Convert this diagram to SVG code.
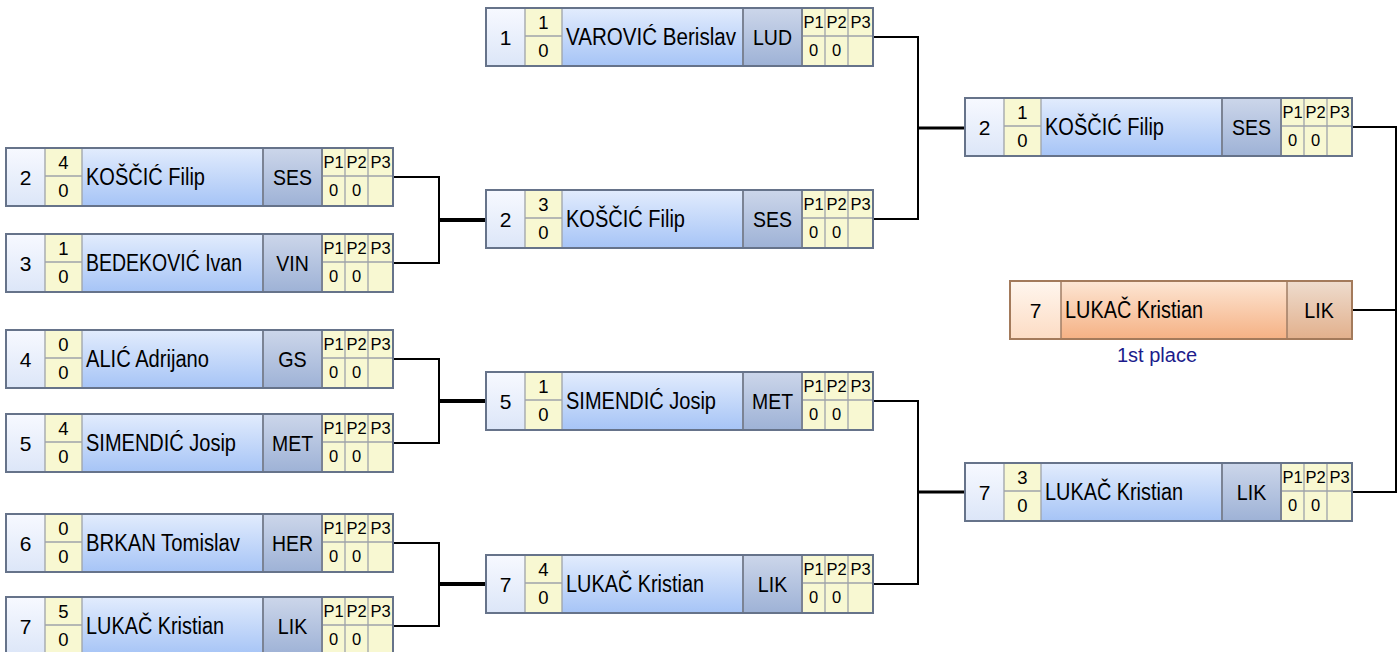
<svg xmlns="http://www.w3.org/2000/svg" xmlns:xlink="http://www.w3.org/1999/xlink" width="1400" height="652" viewBox="0 0 1400 652">
<defs>
<linearGradient id="gSeed" x1="0" y1="0" x2="0" y2="1"><stop offset="0" stop-color="#f7f9ff"/><stop offset="1" stop-color="#dce6f8"/></linearGradient>
<linearGradient id="gName" x1="0" y1="0" x2="0" y2="1"><stop offset="0" stop-color="#e2ecfd"/><stop offset="1" stop-color="#a6c4f6"/></linearGradient>
<linearGradient id="gClub" x1="0" y1="0" x2="0" y2="1"><stop offset="0" stop-color="#ccd6ea"/><stop offset="1" stop-color="#9eb2d6"/></linearGradient>
<linearGradient id="fSeed" x1="0" y1="0" x2="0" y2="1"><stop offset="0" stop-color="#fff6ee"/><stop offset="1" stop-color="#fcdcc4"/></linearGradient>
<linearGradient id="fName" x1="0" y1="0" x2="0" y2="1"><stop offset="0" stop-color="#fde6d4"/><stop offset="1" stop-color="#f5b184"/></linearGradient>
<linearGradient id="fClub" x1="0" y1="0" x2="0" y2="1"><stop offset="0" stop-color="#eedcce"/><stop offset="1" stop-color="#e2b08c"/></linearGradient>
<symbol id="card" overflow="visible">
<rect x="0" y="0" width="39" height="58" fill="url(#gSeed)"/>
<rect x="39" y="0" width="37" height="58" fill="#f8f8d2"/>
<rect x="76" y="0" width="181" height="58" fill="url(#gName)"/>
<rect x="257" y="0" width="59" height="58" fill="url(#gClub)"/>
<rect x="316" y="0" width="71" height="58" fill="#f8f8d2"/>
<path d="M39,0V58M76,0V58M339,0V58M362,0V58M39,28H76M316,28H387" stroke="#9ea3aa" stroke-width="1.3" fill="none"/>
<path d="M257,0V58M316,0V58" stroke="#7b8394" stroke-width="2" fill="none"/>
<rect x="0" y="0" width="387" height="58" fill="none" stroke="#66738a" stroke-width="2"/>
</symbol>
<style>
text{font-family:"Liberation Sans",Arial,sans-serif;fill:#000}
.s{font-size:21px;text-anchor:middle}
.n{font-size:23px}
.c{font-size:22.5px;text-anchor:middle}
.sc{font-size:18.5px;text-anchor:middle}
.p{font-size:16.5px;text-anchor:middle}
.lbl{font-size:20px;text-anchor:middle;fill:#1c1c8c}
.thin{stroke:#000;stroke-width:2;fill:none}
.mid{stroke:#000;stroke-width:3;fill:none}
.thick{stroke:#000;stroke-width:4;fill:none}
</style>
</defs>
<rect width="1400" height="652" fill="#fff"/>

<g id="connectors">
<path class="thin" d="M393,177H439V263H393"/>
<path class="thick" d="M439,220H486"/>
<path class="thin" d="M393,359H439V443H393"/>
<path class="thick" d="M439,401H486"/>
<path class="thin" d="M393,543H439V626H393"/>
<path class="thick" d="M439,584H486"/>
<path class="thin" d="M873,37H918V219H873"/>
<path class="mid" d="M918,128H965"/>
<path class="thin" d="M873,401H918V584H873"/>
<path class="mid" d="M918,492H965"/>
<path class="thin" d="M1352,127H1396V492H1352"/>
<path class="thin" d="M1352,310H1396"/>
</g>

<g id="r1-kos" transform="translate(6,148)"><use xlink:href="#card" href="#card"/>
<text class="s" x="19.5" y="36.5">2</text><text class="sc" x="57.5" y="21">4</text><text class="sc" x="57.5" y="49">0</text>
<text class="n" x="80" y="37" textLength="119" lengthAdjust="spacingAndGlyphs">KOŠČIĆ Filip</text><text class="c" x="286.5" y="37" textLength="39" lengthAdjust="spacingAndGlyphs">SES</text>
<text class="p" x="327.5" y="20">P1</text><text class="p" x="350.5" y="20">P2</text><text class="p" x="374.5" y="20">P3</text>
<text class="p" x="327.5" y="48">0</text><text class="p" x="350.5" y="48">0</text></g>

<g id="r1-bed" transform="translate(6,234)"><use xlink:href="#card" href="#card"/>
<text class="s" x="19.5" y="36.5">3</text><text class="sc" x="57.5" y="21">1</text><text class="sc" x="57.5" y="49">0</text>
<text class="n" x="80" y="37" textLength="156" lengthAdjust="spacingAndGlyphs">BEDEKOVIĆ Ivan</text><text class="c" x="286.5" y="37" textLength="32.5" lengthAdjust="spacingAndGlyphs">VIN</text>
<text class="p" x="327.5" y="20">P1</text><text class="p" x="350.5" y="20">P2</text><text class="p" x="374.5" y="20">P3</text>
<text class="p" x="327.5" y="48">0</text><text class="p" x="350.5" y="48">0</text></g>

<g id="r1-ali" transform="translate(6,330)"><use xlink:href="#card" href="#card"/>
<text class="s" x="19.5" y="36.5">4</text><text class="sc" x="57.5" y="21">0</text><text class="sc" x="57.5" y="49">0</text>
<text class="n" x="80" y="37" textLength="123" lengthAdjust="spacingAndGlyphs">ALIĆ Adrijano</text><text class="c" x="286.5" y="37" textLength="28.5" lengthAdjust="spacingAndGlyphs">GS</text>
<text class="p" x="327.5" y="20">P1</text><text class="p" x="350.5" y="20">P2</text><text class="p" x="374.5" y="20">P3</text>
<text class="p" x="327.5" y="48">0</text><text class="p" x="350.5" y="48">0</text></g>

<g id="r1-sim" transform="translate(6,414)"><use xlink:href="#card" href="#card"/>
<text class="s" x="19.5" y="36.5">5</text><text class="sc" x="57.5" y="21">4</text><text class="sc" x="57.5" y="49">0</text>
<text class="n" x="80" y="37" textLength="150" lengthAdjust="spacingAndGlyphs">SIMENDIĆ Josip</text><text class="c" x="286.5" y="37" textLength="41" lengthAdjust="spacingAndGlyphs">MET</text>
<text class="p" x="327.5" y="20">P1</text><text class="p" x="350.5" y="20">P2</text><text class="p" x="374.5" y="20">P3</text>
<text class="p" x="327.5" y="48">0</text><text class="p" x="350.5" y="48">0</text></g>

<g id="r1-brk" transform="translate(6,514)"><use xlink:href="#card" href="#card"/>
<text class="s" x="19.5" y="36.5">6</text><text class="sc" x="57.5" y="21">0</text><text class="sc" x="57.5" y="49">0</text>
<text class="n" x="80" y="37" textLength="154" lengthAdjust="spacingAndGlyphs">BRKAN Tomislav</text><text class="c" x="286.5" y="37" textLength="41" lengthAdjust="spacingAndGlyphs">HER</text>
<text class="p" x="327.5" y="20">P1</text><text class="p" x="350.5" y="20">P2</text><text class="p" x="374.5" y="20">P3</text>
<text class="p" x="327.5" y="48">0</text><text class="p" x="350.5" y="48">0</text></g>

<g id="r1-luk" transform="translate(6,597)"><use xlink:href="#card" href="#card"/>
<text class="s" x="19.5" y="36.5">7</text><text class="sc" x="57.5" y="21">5</text><text class="sc" x="57.5" y="49">0</text>
<text class="n" x="80" y="37" textLength="138" lengthAdjust="spacingAndGlyphs">LUKAČ Kristian</text><text class="c" x="286.5" y="37" textLength="29.5" lengthAdjust="spacingAndGlyphs">LIK</text>
<text class="p" x="327.5" y="20">P1</text><text class="p" x="350.5" y="20">P2</text><text class="p" x="374.5" y="20">P3</text>
<text class="p" x="327.5" y="48">0</text><text class="p" x="350.5" y="48">0</text></g>

<g id="r2-var" transform="translate(486,8)"><use xlink:href="#card" href="#card"/>
<text class="s" x="19.5" y="36.5">1</text><text class="sc" x="57.5" y="21">1</text><text class="sc" x="57.5" y="49">0</text>
<text class="n" x="80" y="37" textLength="170" lengthAdjust="spacingAndGlyphs">VAROVIĆ Berislav</text><text class="c" x="286.5" y="37" textLength="39" lengthAdjust="spacingAndGlyphs">LUD</text>
<text class="p" x="327.5" y="20">P1</text><text class="p" x="350.5" y="20">P2</text><text class="p" x="374.5" y="20">P3</text>
<text class="p" x="327.5" y="48">0</text><text class="p" x="350.5" y="48">0</text></g>

<g id="r2-kos" transform="translate(486,190)"><use xlink:href="#card" href="#card"/>
<text class="s" x="19.5" y="36.5">2</text><text class="sc" x="57.5" y="21">3</text><text class="sc" x="57.5" y="49">0</text>
<text class="n" x="80" y="37" textLength="119" lengthAdjust="spacingAndGlyphs">KOŠČIĆ Filip</text><text class="c" x="286.5" y="37" textLength="39" lengthAdjust="spacingAndGlyphs">SES</text>
<text class="p" x="327.5" y="20">P1</text><text class="p" x="350.5" y="20">P2</text><text class="p" x="374.5" y="20">P3</text>
<text class="p" x="327.5" y="48">0</text><text class="p" x="350.5" y="48">0</text></g>

<g id="r2-sim" transform="translate(486,372)"><use xlink:href="#card" href="#card"/>
<text class="s" x="19.5" y="36.5">5</text><text class="sc" x="57.5" y="21">1</text><text class="sc" x="57.5" y="49">0</text>
<text class="n" x="80" y="37" textLength="150" lengthAdjust="spacingAndGlyphs">SIMENDIĆ Josip</text><text class="c" x="286.5" y="37" textLength="41" lengthAdjust="spacingAndGlyphs">MET</text>
<text class="p" x="327.5" y="20">P1</text><text class="p" x="350.5" y="20">P2</text><text class="p" x="374.5" y="20">P3</text>
<text class="p" x="327.5" y="48">0</text><text class="p" x="350.5" y="48">0</text></g>

<g id="r2-luk" transform="translate(486,555)"><use xlink:href="#card" href="#card"/>
<text class="s" x="19.5" y="36.5">7</text><text class="sc" x="57.5" y="21">4</text><text class="sc" x="57.5" y="49">0</text>
<text class="n" x="80" y="37" textLength="138" lengthAdjust="spacingAndGlyphs">LUKAČ Kristian</text><text class="c" x="286.5" y="37" textLength="29.5" lengthAdjust="spacingAndGlyphs">LIK</text>
<text class="p" x="327.5" y="20">P1</text><text class="p" x="350.5" y="20">P2</text><text class="p" x="374.5" y="20">P3</text>
<text class="p" x="327.5" y="48">0</text><text class="p" x="350.5" y="48">0</text></g>

<g id="r3-kos" transform="translate(965,98)"><use xlink:href="#card" href="#card"/>
<text class="s" x="19.5" y="36.5">2</text><text class="sc" x="57.5" y="21">1</text><text class="sc" x="57.5" y="49">0</text>
<text class="n" x="80" y="37" textLength="119" lengthAdjust="spacingAndGlyphs">KOŠČIĆ Filip</text><text class="c" x="286.5" y="37" textLength="39" lengthAdjust="spacingAndGlyphs">SES</text>
<text class="p" x="327.5" y="20">P1</text><text class="p" x="350.5" y="20">P2</text><text class="p" x="374.5" y="20">P3</text>
<text class="p" x="327.5" y="48">0</text><text class="p" x="350.5" y="48">0</text></g>

<g id="r3-luk" transform="translate(965,463)"><use xlink:href="#card" href="#card"/>
<text class="s" x="19.5" y="36.5">7</text><text class="sc" x="57.5" y="21">3</text><text class="sc" x="57.5" y="49">0</text>
<text class="n" x="80" y="37" textLength="138" lengthAdjust="spacingAndGlyphs">LUKAČ Kristian</text><text class="c" x="286.5" y="37" textLength="29.5" lengthAdjust="spacingAndGlyphs">LIK</text>
<text class="p" x="327.5" y="20">P1</text><text class="p" x="350.5" y="20">P2</text><text class="p" x="374.5" y="20">P3</text>
<text class="p" x="327.5" y="48">0</text><text class="p" x="350.5" y="48">0</text></g>

<g id="winner" transform="translate(1010,281)">
<rect x="0" y="0" width="51" height="58" fill="url(#fSeed)"/>
<rect x="51" y="0" width="226" height="58" fill="url(#fName)"/>
<rect x="277" y="0" width="65" height="58" fill="url(#fClub)"/>
<path d="M51,0V58M277,0V58" stroke="#a07e66" stroke-width="1.5" fill="none"/>
<rect x="0" y="0" width="342" height="58" fill="none" stroke="#a37a5b" stroke-width="2"/>
<text class="s" x="25.5" y="36.5">7</text>
<text class="n" x="55" y="37" textLength="138" lengthAdjust="spacingAndGlyphs">LUKAČ Kristian</text>
<text class="c" x="309" y="37" textLength="29.5" lengthAdjust="spacingAndGlyphs">LIK</text>
<text class="lbl" x="147" y="81">1st place</text>
</g>
</svg>
